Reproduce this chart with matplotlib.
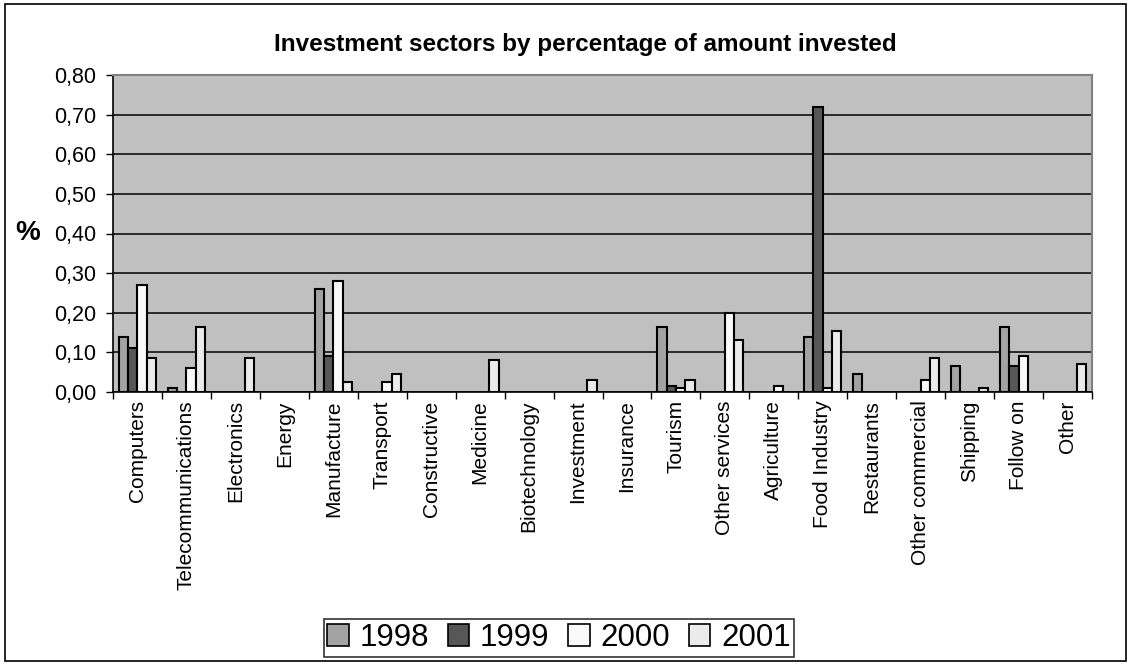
import numpy as np
import matplotlib
matplotlib.use("Agg")
import matplotlib.pyplot as plt
from matplotlib.patches import Rectangle
from matplotlib.ticker import FuncFormatter, MultipleLocator

plt.rcParams['font.family'] = ['Liberation Sans', 'DejaVu Sans']

sectors = ["Computers", "Telecommunications", "Electronics", "Energy", "Manufacture",
           "Transport", "Constructive", "Medicine", "Biotechnology", "Investment",
           "Insurance", "Tourism", "Other services", "Agriculture", "Food Industry",
           "Restaurants", "Other commercial", "Shipping", "Follow on", "Other"]
years = ["1998", "1999", "2000", "2001"]
share_1998 = [0.14, 0.01, 0, 0, 0.26, 0, 0, 0, 0, 0, 0, 0.165, 0, 0, 0.14, 0.045, 0, 0.065, 0.165, 0]
share_1999 = [0.11, 0, 0, 0, 0.09, 0, 0, 0, 0, 0, 0, 0.015, 0, 0, 0.72, 0, 0, 0, 0.065, 0]
share_2000 = [0.27, 0.06, 0, 0, 0.28, 0.025, 0, 0, 0, 0, 0, 0.01, 0.20, 0.015, 0.01, 0, 0.03, 0, 0.09, 0]
share_2001 = [0.085, 0.165, 0.085, 0, 0.025, 0.045, 0, 0.08, 0, 0.03, 0, 0.03, 0.13, 0, 0.155, 0, 0.085, 0.01, 0, 0.07]
colors = ["#a3a3a3", "#575757", "#f9f9f9", "#ebebeb"]

fig = plt.figure(figsize=(11.29, 6.64), dpi=100)
ax = fig.add_axes([113 / 1129, 1 - 392 / 664, (1092 - 113) / 1129, (392 - 75) / 664])
ax.set_facecolor("#c0c0c0")

x = np.arange(len(sectors))
w = 0.19
for j, (vals, c, yr) in enumerate(zip([share_1998, share_1999, share_2000, share_2001], colors, years)):
    vals = np.array(vals)
    keep = vals > 0
    ax.bar(x[keep] + (j - 1.5) * w, vals[keep], width=w, color=c,
           edgecolor="black", linewidth=1.5, zorder=3)
    # legend proxy
    ax.bar([0], [0], width=0, color=c, edgecolor="black", linewidth=1.2, label=yr)

ax.set_xlim(-0.5, len(sectors) - 0.5)
ax.set_ylim(0, 0.8)
ax.yaxis.set_major_locator(MultipleLocator(0.1))
ax.yaxis.set_major_formatter(FuncFormatter(lambda v, p: f"{v:.2f}".replace(".", ",")))
ax.grid(axis="y", color="black", linewidth=1.1, zorder=1)
ax.set_axisbelow(True)

ax.set_xticks(x)
ax.set_xticklabels(sectors, rotation=90, va="top", ha="center", fontsize=15)
ax.set_xticks(np.arange(len(sectors) + 1) - 0.5, minor=True)
ax.tick_params(axis="x", which="major", length=0, pad=6)
ax.tick_params(axis="x", which="minor", length=5, width=1, color="black", direction="out")
ax.tick_params(axis="y", length=5, width=1, direction="out", pad=7, labelsize=15.5)

for s in ["left", "bottom"]:
    ax.spines[s].set_color("black")
    ax.spines[s].set_linewidth(1.2)
for s in ["top", "right"]:
    ax.spines[s].set_color("#808080")
    ax.spines[s].set_linewidth(1.5)

fig.text(585 / 1129, 1 - 44 / 664, "Investment sectors by percentage of amount invested",
         ha="center", va="center", fontsize=17.5, fontweight="bold")
fig.text(28 / 1129, 1 - 233 / 664, "%", ha="center", va="center", fontsize=20, fontweight="bold")

leg = fig.legend(loc="center", bbox_to_anchor=(559 / 1129, 1 - 638 / 664), ncol=4,
                 fontsize=22.5, frameon=True, fancybox=False, edgecolor="black",
                 handlelength=0.68, handleheight=0.68, handletextpad=0.35,
                 columnspacing=0.6, borderpad=0.12, borderaxespad=0)
leg.get_frame().set_linewidth(1.2)

fig.patches.append(Rectangle((5 / 1129, 3 / 664), 1121 / 1129, 657 / 664, transform=fig.transFigure,
                             fill=False, edgecolor="black", linewidth=1.2))

fig.savefig("out.png", dpi=100)
